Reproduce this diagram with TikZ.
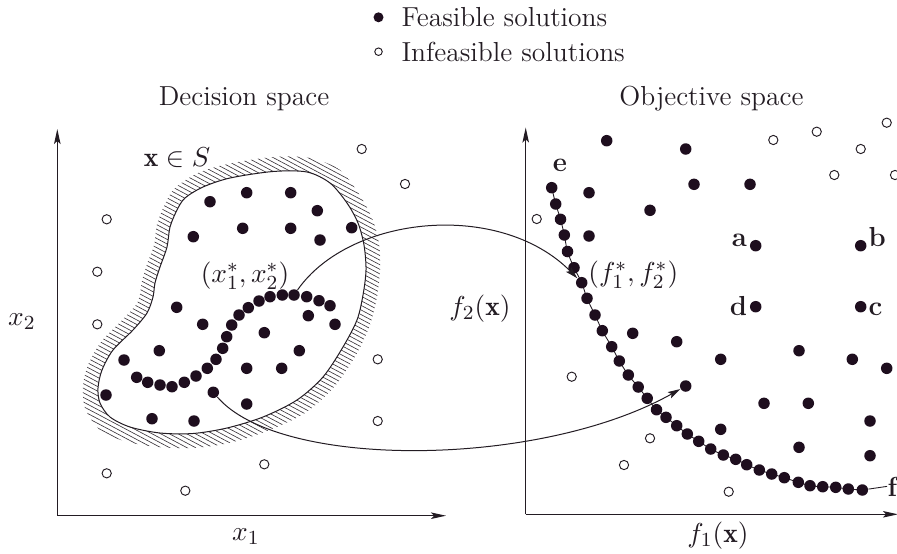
\documentclass[tikz,border=0pt]{standalone}
\usepackage{fontspec}
\usetikzlibrary{arrows.meta}
\definecolor{ink}{RGB}{35,28,35}
\definecolor{dotc}{RGB}{30,14,30}
\begin{document}
\begin{tikzpicture}[x=0.4pt,y=-0.4pt,
  every node/.style={font=\fontsize{11}{13.5}\selectfont, text=ink},
  fdot/.style={circle,fill=dotc,inner sep=0pt,minimum size=4.6pt},
  ldot/.style={circle,fill=dotc,inner sep=0pt,minimum size=4pt},
  odot/.style={circle,draw=ink,line width=0.38pt,fill=white,inner sep=0pt,minimum size=3.7pt},
  lodot/.style={circle,draw=ink,line width=0.38pt,fill=white,inner sep=0pt,minimum size=3pt},
  axis/.style={draw=ink,line width=0.45pt,-{Stealth[length=6pt,width=2.6pt,inset=1.2pt]}},
  mapping/.style={draw=ink,line width=0.4pt,-{Stealth[length=5pt,width=2.8pt,inset=1pt]}},
  hatch/.style={draw=ink!90,line width=0.25pt},
  lbl/.style={inner sep=0pt},
  blob/.style={draw=ink,line width=0.4pt,fill=white}
]
\useasboundingbox (0,0) rectangle (897,553);

% legend
\node[ldot] (legf) at (378.5,17.3) {};
\node[lbl,anchor=base west] (legft) at (401,26.5) {Feasible solutions};
\node[lodot] (legi) at (378.5,51.7) {};
\node[lbl,anchor=base west] (legit) at (401,61.5) {Infeasible solutions};

% titles
\node[lbl,anchor=base] (tdec) at (244,105.5) {Decision space};
\node[lbl,anchor=base] (tobj) at (711.5,105.5) {Objective space};

% axes
\coordinate (LO) at (57.3,515.7);
\coordinate (LY) at (57.3,129);
\coordinate (LX) at (446,515.7);
\coordinate (RO) at (525.7,514.3);
\coordinate (RY) at (525.7,127.5);
\coordinate (RX) at (898,514.3);
\draw[axis] (LO) -- (LY);
\draw[axis] (LO) -- (LX);
\draw[axis] (RO) -- (RY);
\draw[axis] (RO) -- (RX);
\node (x2) at (22,322) {$x_2$};
\node (x1) at (246,537) {$x_1$};
\node (f2) at (480,309) {$f_2(\mathbf{x})$};
\node (f1) at (718,536) {$f_1(\mathbf{x})$};

% hatching band round the feasible region
\begin{scope}
\clip plot[smooth cycle] coordinates {(175,188) (198,173) (228,164) (273,157) (310,158) (340,170) (359,194) (372,218) (379,243) (380,270) (377,297) (370,325) (356,355) (334,387) (305,413) (267,431) (229,443) (193,448) (158,447) (124,441) (99,429) (85,408) (83,386) (88,365) (101,342) (122,320) (136,305) (140,294) (142,281) (147,264) (154,245) (157,224) (165,204)};
\foreach \c in {-70,-65.4,...,430} \draw[hatch] (60,{\c+0.53*60}) -- (400,{\c+0.53*400});
\end{scope}
\path[blob] plot[smooth cycle] coordinates {(185,198) (203,187) (230,178) (273,171.5) (307,172) (330,183) (347,203) (358,223) (364,245) (366,270) (363,295) (357,320) (343,347) (323,377) (297,400) (263,417) (227,428) (193,433.5) (160,433) (130,427) (110,417) (100,403) (98,388) (102,370) (113,350) (133,330) (147,313) (153,297) (155,283) (160,267) (167,247) (170,227) (177,210)};
\node[lbl,anchor=base] (xinS) at (177,166) {$\mathbf{x}\in S$};

% decision space: infeasible
\foreach \px/\py [count=\i] in {361.7/149, 405/184, 106.7/219.3, 97.3/271.7, 97.3/324.3, 377.7/359.3, 377.7/421, 264.3/464.3, 106.7/473.3, 185.3/490.7}
  \node[odot] (LI\i) at (\px,\py) {};
% decision space: feasible
\foreach \px/\py [count=\i] in {210/201.7, 246.7/192.7, 290.7/192.7, 317.3/210.7, 193.3/236.7, 242.7/228.3, 290.7/228.3, 320/240, 351.7/227.7, 176.7/307.3, 202.7/324.3, 264.3/332.7, 308.3/315.7, 335/324.3, 159.3/350.7, 124/360, 299.3/350.7, 246.7/368.3, 281.7/368.3, 106/395, 246.7/404, 152/418.7, 194/421}
  \node[fdot] (LF\i) at (\px,\py) {};
\node[fdot] (Xs) at (213.3,392.3) {};
% decision space: Pareto-optimal set
\foreach \px/\py [count=\i] in {136.7/377.3, 147.7/382.3, 160/385, 172/386.7, 184.3/382.3, 196/376, 207.3/368.3, 216/359.3, 222.7/348.3, 226.7/336.7, 231.7/325, 239/315, 248.3/307.7, 259/301, 270/296.7, 282.3/295, 294/295, 306.7/296.7, 319/300.7, 330/305.7}
  \node[fdot] (C\i) at (\px,\py) {};
\node[lbl] (xstar) at (245,275.5) {$(x_1^*,x_2^*)$};

% objective space: infeasible
\foreach \px/\py [count=\i] in {886.7/122.7, 816.7/131.7, 773.3/140, 860.7/149, 834.3/175, 895/175, 536.7/219, 571.7/376.7, 650/438.3, 624/465, 728.7/491.7}
  \node[odot] (RI\i) at (\px,\py) {};
% objective space: feasible
\foreach \px/\py [count=\i] in {606.7/140.7, 685.7/149, 589/192.7, 694/184.3, 750/184.3, 650/210.3, 589/236, 632.7/333.3, 676.7/341.7, 720.7/359.3, 799/350.7, 852.3/359.3, 886.7/368.3, 764/403.3, 808.3/403.3, 870/421, 720.7/429.3, 799/447.3, 870/455.7}
  \node[fdot] (RF\i) at (\px,\py) {};
\node[fdot] (Ys) at (685.7,386) {};
\node[fdot] (pa) at (755.7,245.7) {};
\node[fdot] (pb) at (860.7,245.7) {};
\node[fdot] (pd) at (755.7,306.7) {};
\node[fdot] (pc) at (860.7,306.7) {};
\node[lbl,anchor=base east] (la) at (747.5,246.5) {\textbf{a}};
\node[lbl,anchor=base west] (lb) at (868,246.5) {\textbf{b}};
\node[lbl,anchor=base east] (ld) at (747.5,315) {\textbf{d}};
\node[lbl,anchor=base west] (lc) at (868,315.5) {\textbf{c}};

% Pareto-optimal front
\draw[ink,line width=0.35pt] plot[smooth] coordinates {(551.7,187.7) (555.7,204) (560.5,219.3) (564.3,235) (567.5,251.5) (574,267.7) (581.7,282.7) (587,298.3) (595,315) (602.3,330.7) (611.7,346.7) (619.3,361) (628.3,375) (638.2,387) (647.2,398.3) (656.5,409.7) (666,417.3) (676.7,425.7) (687.3,434) (698.7,441.3) (710.7,449) (723.3,455) (735.7,459.3) (746.7,464.7) (759.3,470) (771.7,474) (784.3,477.7) (798.3,482.3) (810,485.7) (822.7,486.7) (835.7,487.3) (848.3,489) (862.3,490)};
\foreach \px/\py [count=\i] in {551.7/187.7, 555.7/204, 560.5/219.3, 564.3/235, 567.5/251.5, 574/267.7, 581.7/282.7, 587/298.3, 595/315, 602.3/330.7, 611.7/346.7, 619.3/361, 628.3/375, 638.2/387, 647.2/398.3, 656.5/409.7, 666/417.3, 676.7/425.7, 687.3/434, 698.7/441.3, 710.7/449, 723.3/455, 735.7/459.3, 746.7/464.7, 759.3/470, 771.7/474, 784.3/477.7, 798.3/482.3, 810/485.7, 822.7/486.7, 835.7/487.3, 848.3/489, 862.3/490}
  \node[fdot] (P\i) at (\px,\py) {};
\node[lbl,anchor=base] (le) at (560,171.5) {\textbf{e}};
\node[lbl,anchor=base west] (lf) at (887,496) {\textbf{f}};
\draw[ink,line width=0.35pt] (P33) -- (lf.west);
\node[lbl] (fstar) at (633.3,274.5) {$(f_1^*,f_2^*)$};

% mappings
\draw[mapping] (C17) .. controls (350,215) and (500,200) .. (P7);
\draw[mapping] (Xs) .. controls (280,470) and (540,468) .. (Ys);
\end{tikzpicture}
\end{document}
